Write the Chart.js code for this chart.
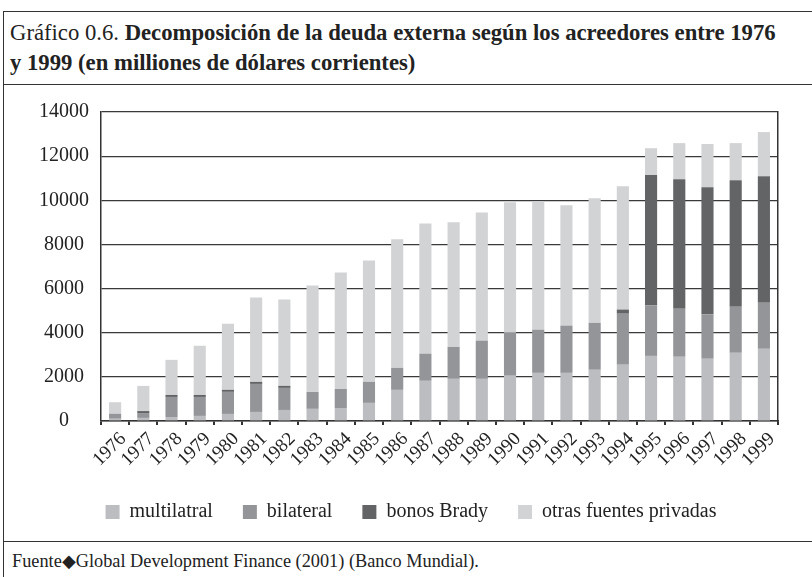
<!DOCTYPE html>
<html>
<head>
<meta charset="utf-8">
<script src="https://cdn.jsdelivr.net/npm/chart.js@4.4.1/dist/chart.umd.min.js"></script>
<style>
  html, body { margin: 0; padding: 0; background: #fff; }
  body { width: 812px; height: 577px; position: relative; overflow: hidden; font-family: "Liberation Serif", serif; color: #222; }
  #frame { position: absolute; left: 3px; top: 11px; width: 820px; height: 600px; border: 1.5px solid #333; box-sizing: border-box; }
  #title { position: absolute; left: 10px; top: 18px; font-size: 22.7px; line-height: 30px; white-space: nowrap; }
  #title b { font-weight: bold; }
  .rule { position: absolute; left: 3px; width: 820px; height: 0; border-top: 1.5px solid #333; }
  #wrap { position: absolute; left: 4px; top: 86px; width: 806px; height: 454px; }
  #footer { position: absolute; left: 12px; top: 550px; font-size: 18.3px; }
</style>
</head>
<body>
<div id="frame"></div>
<div id="title">Gráfico 0.6. <b>Decomposición de la deuda externa según los acreedores entre 1976</b><br><b>y 1999 (en milliones de dólares corrientes)</b></div>
<div class="rule" style="top:84px"></div>
<div id="wrap"><canvas id="chart" width="806" height="454"></canvas></div>
<div class="rule" style="top:541px"></div>
<div id="footer">Fuente◆Global Development Finance (2001) (Banco Mundial).</div>
<script>
const years = ["1976", "1977", "1978", "1979", "1980", "1981", "1982", "1983", "1984", "1985", "1986", "1987",
               "1988", "1989", "1990", "1991", "1992", "1993", "1994", "1995", "1996", "1997", "1998", "1999"];

// millones de dólares corrientes
const multilateral = [100, 140, 180, 230, 320, 410, 500, 550, 590, 820, 1410, 1820,
                      1910, 1910, 2050, 2180, 2180, 2320, 2550, 2950, 2910, 2820, 3090, 3270];
const bilateral    = [230, 220, 910, 860, 1000, 1270, 1000, 770, 860, 950, 1000, 1230,
                      1450, 1730, 1950, 1960, 2140, 2130, 2310, 2280, 2180, 2000, 2090, 2090];
const brady        = [0, 90, 90, 90, 90, 90, 90, 0, 0, 0, 0, 0,
                      0, 0, 0, 0, 0, 0, 190, 5910, 5860, 5770, 5730, 5730];
const otras        = [520, 1140, 1590, 2230, 3000, 3820, 3910, 4820, 5280, 5500, 5820, 5900,
                      5640, 5810, 5910, 5810, 5450, 5640, 5590, 1220, 1640, 1960, 1680, 2000];

const seriesNames = ["multilatral", "bilateral", "bonos Brady", "otras fuentes privadas"];
const yTicks = [0, 2000, 4000, 6000, 8000, 10000, 12000, 14000];

const COLORS = ["#bcbdc0", "#939598", "#636466", "#d2d3d5"];
const LINE = "#333";
const FONT = "Liberation Serif";

Chart.defaults.font.family = FONT;
Chart.defaults.color = "#222";

const datasets = [multilateral, bilateral, brady, otras].map((data, i) => ({
  label: seriesNames[i],
  data: data,
  backgroundColor: COLORS[i],
  borderWidth: 0,
  categoryPercentage: 1,
  barPercentage: 0.43,
}));

new Chart(document.getElementById("chart"), {
  type: "bar",
  data: { labels: years, datasets: datasets },
  options: {
    responsive: false,
    animation: false,
    layout: { padding: { top: 26, right: 0, left: 8, bottom: 8 } },
    plugins: {
      tooltip: { enabled: false },
      legend: {
        position: "bottom",
        labels: {
          font: { family: FONT, size: 20 },
          boxWidth: 14,
          boxHeight: 14,
          padding: 30,
        },
      },
    },
    scales: {
      x: {
        stacked: true,
        afterFit: (a) => { a.height = 51; },
        border: { color: LINE, width: 1.5 },
        grid: { drawOnChartArea: false, drawTicks: true, tickLength: 4, color: LINE, lineWidth: 2, offset: true },
        ticks: { font: { family: FONT, size: 19 }, minRotation: 45, maxRotation: 45, autoSkip: false, padding: 3, labelOffset: 8 },
      },
      y: {
        stacked: true,
        min: 0,
        max: 14000,
        afterFit: (a) => { a.width = 89; },
        afterBuildTicks: (a) => { a.ticks = yTicks.map((v) => ({ value: v })); },
        border: { color: LINE, width: 1.5 },
        grid: { color: "#3a3a3a", lineWidth: 1.2, drawTicks: false },
        ticks: { font: { family: FONT, size: 20 }, crossAlign: "center", padding: 12, callback: (v) => String(v) },
      },
      yRight: {
        position: "right",
        min: 0,
        max: 14000,
        afterFit: (a) => { a.width = 32; },
        border: { color: LINE, width: 1.5 },
        grid: { drawOnChartArea: false, drawTicks: false },
        ticks: { display: false },
      },
    },
  },
});
</script>
</body>
</html>
